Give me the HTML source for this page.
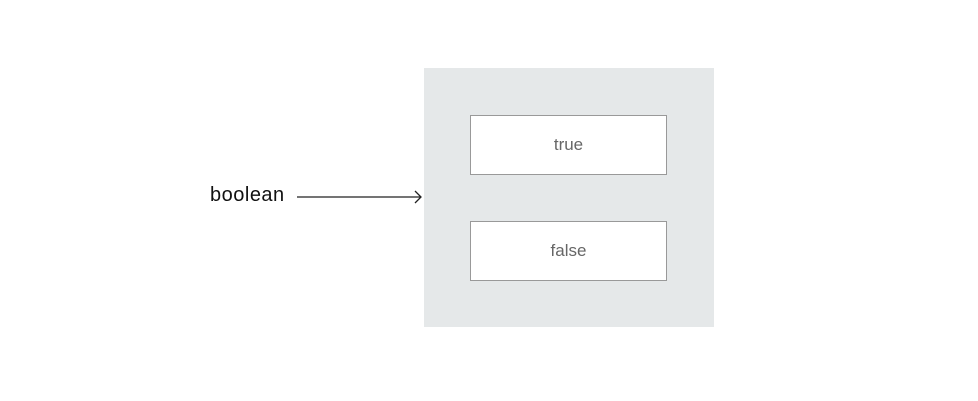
<!DOCTYPE html>
<html><head><style>
body{margin:0;width:978px;height:401px;background:#fff;position:relative;overflow:hidden;font-family:"Liberation Sans",sans-serif}
.g{position:absolute;left:424px;top:68px;width:290px;height:259px;background:#e5e8e9}
.b{position:absolute;left:470px;width:195px;height:58px;background:#fff;border:1px solid #999;color:#666;font-size:17px;text-align:center;line-height:58px}
.t{position:absolute;left:210px;top:184px;font-size:20px;color:#111;letter-spacing:0.5px}
</style></head><body>
<div class="g"></div>
<div class="b" style="top:115px">true</div>
<div class="b" style="top:221px">false</div>
<div class="t">boolean</div>
<svg style="position:absolute;left:0;top:0" width="978" height="401">
<line x1="297" y1="197" x2="421" y2="197" stroke="#222" stroke-width="1.3"/>
<polyline points="415,191 421,197 415,203" fill="none" stroke="#222" stroke-width="1.3"/>
</svg>
</body></html>
